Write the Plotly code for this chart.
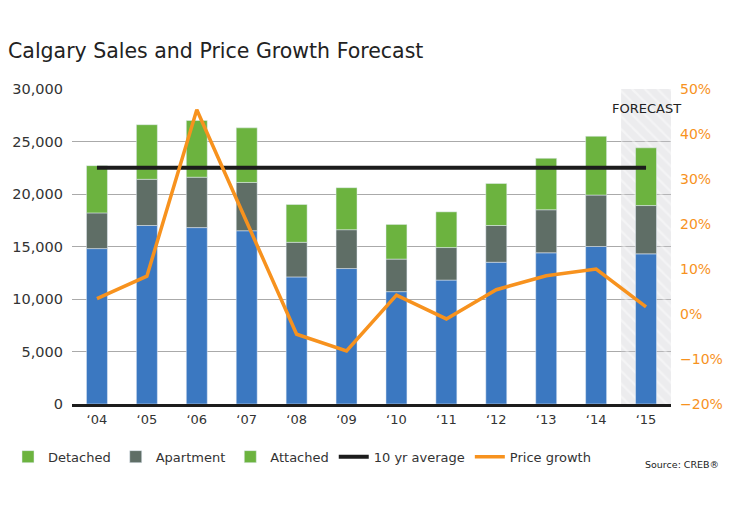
import plotly.graph_objects as go

# ─── data ────────────────────────────────────────────────────────────────
YEARS = ["‘04", "‘05", "‘06", "‘07", "‘08", "‘09", "‘10", "‘11", "‘12", "‘13", "‘14", "‘15"]
DETACHED  = [14800, 17000, 16800, 16500, 12100, 12900, 10700, 11800, 13500, 14400, 15000, 14300]
APARTMENT = [3400, 4400, 4800, 4600, 3300, 3700, 3100, 3100, 3500, 4100, 4900, 4600]
ATTACHED  = [4500, 5200, 5400, 5200, 3600, 4000, 3300, 3400, 4000, 4900, 5600, 5500]
AVG_10YR  = 22500
PRICE_GROWTH = [3.4, 8.4, 45.4, 20.5, -4.5, -8.2, 4.2, -1.1, 5.4, 8.5, 10.0, 1.6]
FORECAST_YEAR = "‘15"

BLUE   = "#3b78c1"
GRAY   = "#5f6e66"
GREEN  = "#6cb33f"
ORANGE = "#f7921e"
BLACK  = "#1c1c1c"
FONT   = "DejaVu Sans"

apt_base = DETACHED
att_base = [d + a for d, a in zip(DETACHED, APARTMENT)]

fig = go.Figure()

# forecast shading (behind everything)
fig.add_trace(go.Bar(
    x=[FORECAST_YEAR], y=[30000], width=1,
    marker=dict(color="rgba(200,200,205,0.35)", line=dict(width=0),
                pattern=dict(shape="\\", fgcolor="rgba(255,255,255,0.8)", size=9, solidity=0.25)),
    hoverinfo="skip", showlegend=False,
))

# legend proxy (original legend shows a green swatch for Detached)
fig.add_trace(go.Bar(x=[YEARS[0]], y=[0], name="Detached", marker_color=GREEN,
                     width=0.42, hoverinfo="skip"))

fig.add_trace(go.Bar(x=YEARS, y=DETACHED, name="Detached", marker_color=BLUE,
                     width=0.42, showlegend=False))
fig.add_trace(go.Bar(x=YEARS, y=APARTMENT, base=apt_base, name="Apartment",
                     marker_color=GRAY, width=0.42))
fig.add_trace(go.Bar(x=YEARS, y=ATTACHED, base=att_base, name="Attached",
                     marker_color=GREEN, width=0.42))

fig.add_trace(go.Scatter(
    x=[YEARS[0], YEARS[-1]], y=[AVG_10YR, AVG_10YR], mode="lines",
    name="10 yr average", line=dict(color=BLACK, width=4),
))
fig.add_trace(go.Scatter(
    x=YEARS, y=PRICE_GROWTH, mode="lines", name="Price growth",
    line=dict(color=ORANGE, width=3.5), yaxis="y2",
))

fig.add_annotation(x=FORECAST_YEAR, y=28100, text="FORECAST", showarrow=False,
                   font=dict(family=FONT, size=13, color="#222"))
fig.add_annotation(xref="paper", yref="paper", x=1.083, y=-0.215, xanchor="right",
                   text="Source: CREB®", showarrow=False,
                   font=dict(family=FONT, size=9.5, color="#222"))

# page has an 8px body margin, so the figure is kept smaller than the window
fig.update_layout(
    barmode="overlay",
    width=720, height=503,
    margin=dict(l=64, r=57, t=81, b=107),
    paper_bgcolor="white", plot_bgcolor="white",
    font=dict(family=FONT, color="#333"),
    title=dict(text="Calgary Sales and Price Growth Forecast", x=0.0, xanchor="left",
               xref="container", y=0.915, yanchor="middle",
               font=dict(family=FONT, size=20.5, color="#222")),
    xaxis=dict(type="category", categoryorder="array", categoryarray=YEARS,
               range=[-0.5, len(YEARS) - 0.5],
               showgrid=False, showline=True, linecolor=BLACK, linewidth=2.5,
               tickfont=dict(size=13, color="#333"), ticks="", ticklabelstandoff=2,
               automargin=False),
    yaxis=dict(range=[0, 30000], dtick=5000, tickformat=",", gridcolor="#aaaaaa",
               gridwidth=1, zeroline=False, tickfont=dict(size=14.5, color="#333"),
               ticklabelstandoff=8, automargin=False),
    yaxis2=dict(range=[-20, 50], dtick=10, ticksuffix="%", overlaying="y", side="right",
                showgrid=False, zeroline=False, tickfont=dict(size=14, color=ORANGE),
                ticklabelstandoff=8, automargin=False),
    legend=dict(orientation="h", x=-0.015, xref="container", y=0.108, yref="container",
                yanchor="middle", font=dict(size=13, color="#333"), itemwidth=30,
                traceorder="normal"),
    showlegend=True,
)

fig.write_html("out.html")
